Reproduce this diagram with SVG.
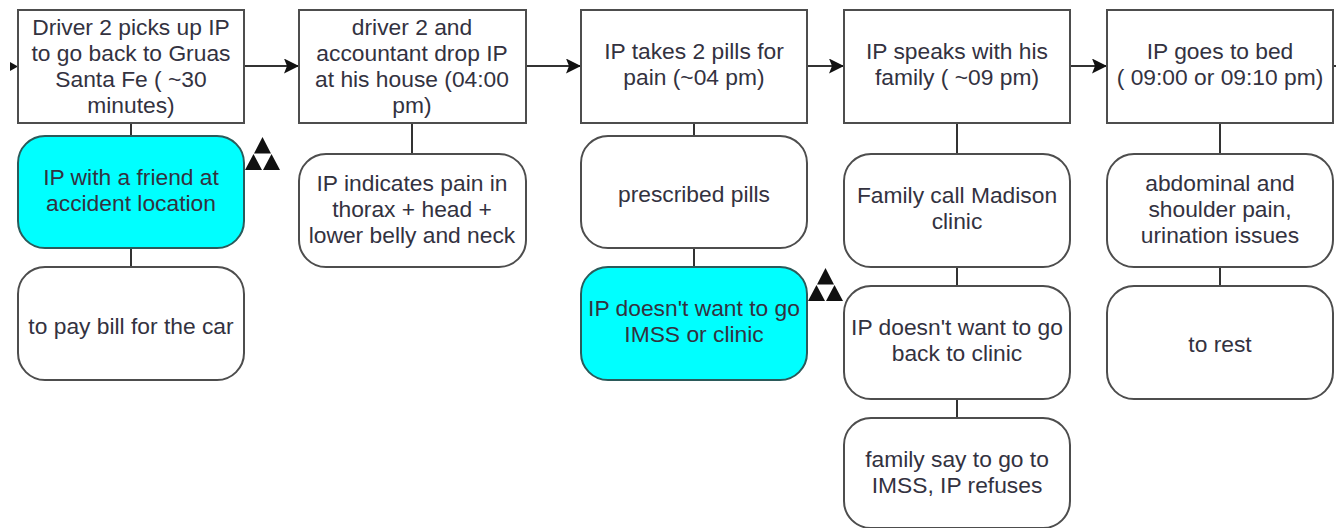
<svg xmlns="http://www.w3.org/2000/svg" width="1336" height="528" viewBox="0 0 1336 528">
<style>
.b{fill:#fff;stroke:#4d4d4d;stroke-width:2}
.c{fill:#00ffff;stroke:#2b5a5a;stroke-width:2}
text{font-family:"Liberation Sans",Arial,sans-serif;font-size:22.8px;fill:#33323f;text-anchor:middle}
.l{fill:none;stroke:#333;stroke-width:2}
.t{fill:#111}
</style>
<defs>
<marker id="a" markerUnits="userSpaceOnUse" markerWidth="16" markerHeight="16" refX="15" refY="7.500" orient="auto"><path d="M0 0L15 7.500L0 15L3 7.500Z" fill="#111"/></marker>
<g id="tri"><path class="t" d="M17.500 0L26 16.500H9ZM8.500 17L17 33H0ZM26.500 17L35 33H18Z"/></g>
</defs>
<rect width="1336" height="528" fill="#fff"/>
<g id="connectors">
<path class="t" d="M10 62L18 66.500L10 71Z"/>
<path class="l" marker-end="url(#a)" d="M244 66H299"/>
<path class="l" marker-end="url(#a)" d="M526 66H581"/>
<path class="l" marker-end="url(#a)" d="M807 66H844"/>
<path class="l" marker-end="url(#a)" d="M1070 66H1107"/>
<path class="l" d="M1333 66H1336"/>
<path class="l" d="M131 123V136M131 248V267M412 123V154M694 123V136M694 248V267M957 123V154M957 267V286M957 399V418M1220 123V154M1220 267V286"/>
</g>
<g id="n1"><rect class="b" x="18" y="10" width="226" height="113"/><text x="131" y="35">Driver 2 picks up IP</text><text x="131" y="61">to go back to Gruas</text><text x="131" y="87">Santa Fe ( ~30</text><text x="131" y="113">minutes)</text></g>
<g id="n2"><rect class="b" x="299" y="10" width="227" height="113"/><text x="412" y="35">driver 2 and</text><text x="412" y="61">accountant drop IP</text><text x="412" y="87">at his house (04:00</text><text x="412" y="113">pm)</text></g>
<g id="n3"><rect class="b" x="581" y="10" width="226" height="113"/><text x="694" y="59">IP takes 2 pills for</text><text x="694" y="85">pain (~04 pm)</text></g>
<g id="n4"><rect class="b" x="844" y="10" width="226" height="113"/><text x="957" y="59">IP speaks with his</text><text x="957" y="85">family ( ~09 pm)</text></g>
<g id="n5"><rect class="b" x="1107" y="10" width="226" height="113"/><text x="1220" y="59">IP goes to bed</text><text x="1220" y="85">( 09:00 or 09:10 pm)</text></g>
<g id="n6"><rect class="c" x="18" y="136" width="226" height="112" rx="27"/><text x="131" y="185">IP with a friend at</text><text x="131" y="211">accident location</text></g>
<use id="risk1" href="#tri" x="245" y="137"/>
<g id="n7"><rect class="b" x="18" y="267" width="226" height="113" rx="27"/><text x="131" y="334">to pay bill for the car</text></g>
<g id="n8"><rect class="b" x="299" y="154" width="227" height="113" rx="27"/><text x="412" y="191">IP indicates pain in</text><text x="412" y="217">thorax + head +</text><text x="412" y="243">lower belly and neck</text></g>
<g id="n9"><rect class="b" x="581" y="136" width="226" height="112" rx="27"/><text x="694" y="202">prescribed pills</text></g>
<g id="n10"><rect class="c" x="581" y="267" width="226" height="113" rx="27"/><text x="694" y="316">IP doesn't want to go</text><text x="694" y="342">IMSS or clinic</text></g>
<use id="risk2" href="#tri" x="808" y="268"/>
<g id="n11"><rect class="b" x="844" y="154" width="226" height="113" rx="27"/><text x="957" y="203">Family call Madison</text><text x="957" y="229">clinic</text></g>
<g id="n12"><rect class="b" x="844" y="286" width="226" height="113" rx="27"/><text x="957" y="335">IP doesn't want to go</text><text x="957" y="361">back to clinic</text></g>
<g id="n13"><rect class="b" x="844" y="418" width="226" height="110" rx="27"/><text x="957" y="467">family say to go to</text><text x="957" y="493">IMSS, IP refuses</text></g>
<g id="n14"><rect class="b" x="1107" y="154" width="226" height="113" rx="27"/><text x="1220" y="191">abdominal and</text><text x="1220" y="217">shoulder pain,</text><text x="1220" y="243">urination issues</text></g>
<g id="n15"><rect class="b" x="1107" y="286" width="226" height="113" rx="27"/><text x="1220" y="352">to rest</text></g>
</svg>
